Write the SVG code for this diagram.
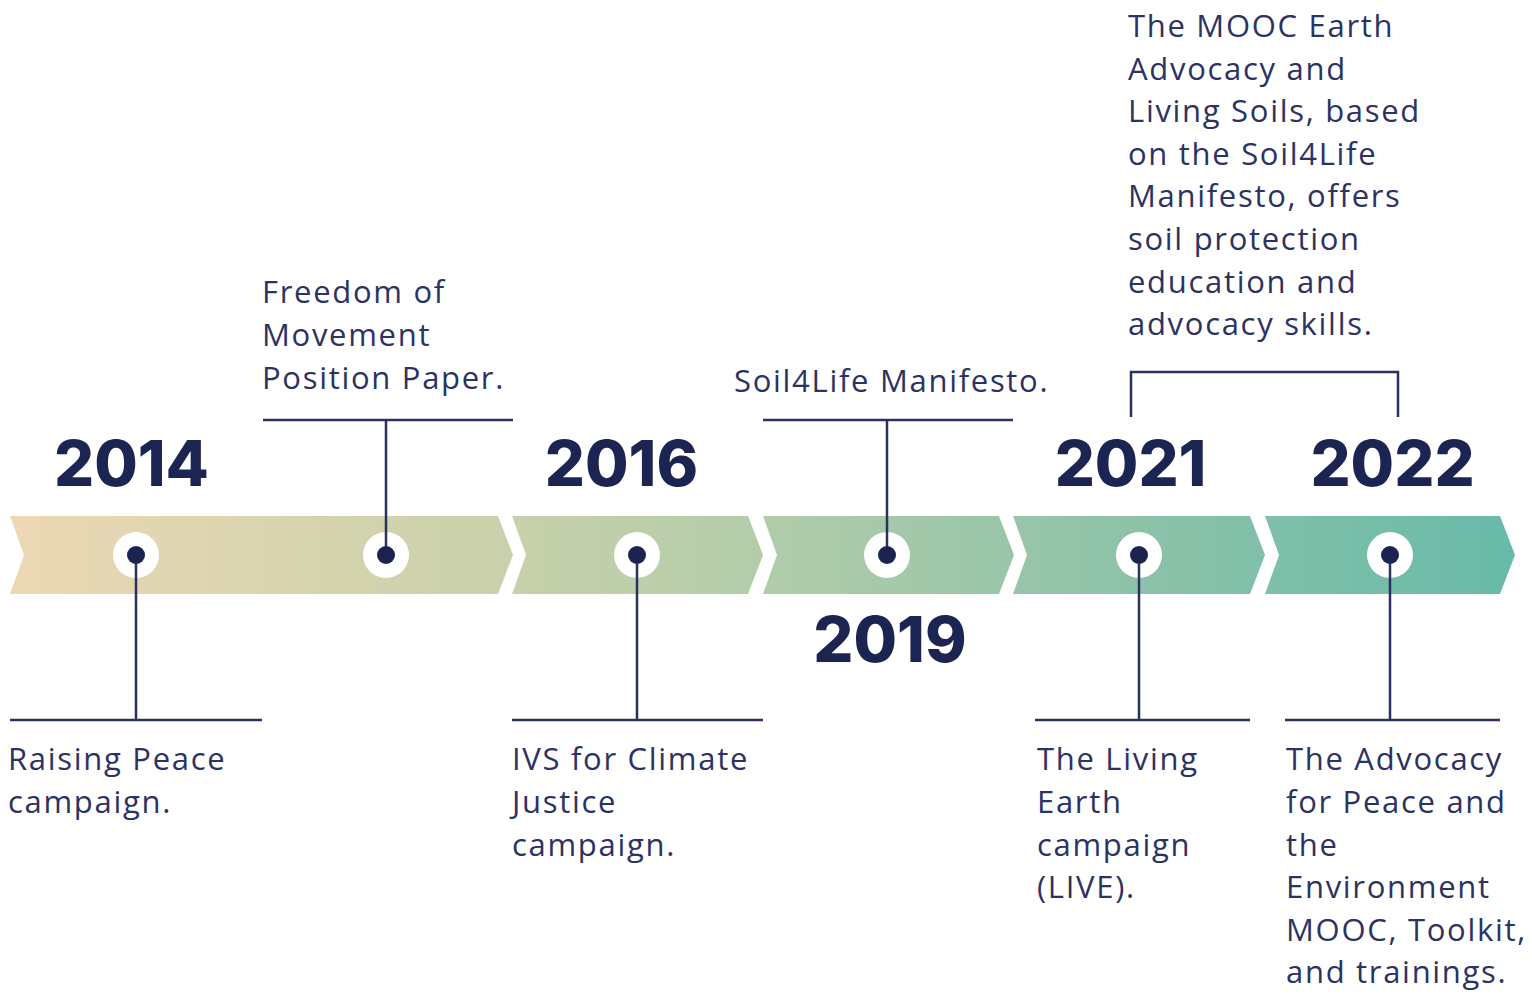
<svg xmlns="http://www.w3.org/2000/svg" width="1532" height="994" viewBox="0 0 1532 994">
  <defs>
    <linearGradient id="band" gradientUnits="userSpaceOnUse" x1="10" y1="0" x2="1515" y2="0">
      <stop offset="0" stop-color="#ECD8B4"/>
      <stop offset="0.33" stop-color="#C8D1AB"/>
      <stop offset="0.5" stop-color="#B2CCA9"/>
      <stop offset="0.67" stop-color="#98C5A9"/>
      <stop offset="1" stop-color="#68BAA8"/>
    </linearGradient>
    <style>
      .seg { fill: url(#band); }
      .ring { fill: #FFFFFF; }
      .dot { fill: #1B2350; }
      .ln { stroke: #2A3062; stroke-width: 2.5; fill: none; }
      .yr { font-family: Inter, "Open Sans", sans-serif; font-weight: 800; font-size: 63px; fill: #1C2452; text-anchor: middle; }
      .lb { font-family: "Open Sans", "Noto Sans", sans-serif; font-size: 31px; letter-spacing: 1.7px; fill: #2C3263; }
    </style>
  </defs>
  <rect width="1532" height="994" fill="#FFFFFF"/>

  <g id="band-segments">
    <polygon class="seg" points="10,516 498,516 513,555 498,594 10,594 24,555"/>
    <polygon class="seg" points="512,516 748,516 763,555 748,594 512,594 526,555"/>
    <polygon class="seg" points="763,516 999,516 1014,555 999,594 763,594 777,555"/>
    <polygon class="seg" points="1013,516 1250,516 1265,555 1250,594 1013,594 1027,555"/>
    <polygon class="seg" points="1265,516 1500,516 1515,555 1500,594 1265,594 1279,555"/>
  </g>

  <g id="rings">
    <circle class="ring" cx="136" cy="555" r="23"/>
    <circle class="ring" cx="386" cy="555" r="23"/>
    <circle class="ring" cx="637" cy="555" r="23"/>
    <circle class="ring" cx="887" cy="555" r="23"/>
    <circle class="ring" cx="1139" cy="555" r="23"/>
    <circle class="ring" cx="1390" cy="555" r="23"/>
  </g>

  <g id="connectors">
    <path class="ln" d="M136,555 V720 M10,720 H262"/>
    <path class="ln" d="M386,555 V420 M263,420 H513"/>
    <path class="ln" d="M637,555 V720 M512,720 H763"/>
    <path class="ln" d="M887,555 V420 M763,420 H1013"/>
    <path class="ln" d="M1139,555 V720 M1035,720 H1250"/>
    <path class="ln" d="M1390,555 V720 M1285,720 H1500"/>
    <path class="ln" d="M1131,417 V372 H1398 V417"/>
  </g>

  <g id="node-2014">
    <circle class="dot" cx="136" cy="555" r="9"/>
    <text class="yr" x="131.5" y="486">2014</text>
    <text class="lb" x="8" y="770">Raising Peace</text>
    <text class="lb" x="8" y="813">campaign.</text>
  </g>

  <g id="node-freedom">
    <circle class="dot" cx="386" cy="555" r="9"/>
    <text class="lb" x="262" y="303">Freedom of</text>
    <text class="lb" x="262" y="346">Movement</text>
    <text class="lb" x="262" y="389">Position Paper.</text>
  </g>

  <g id="node-2016">
    <circle class="dot" cx="637" cy="555" r="9"/>
    <text class="yr" x="621.5" y="486">2016</text>
    <text class="lb" x="512" y="770">IVS for Climate</text>
    <text class="lb" x="512" y="813">Justice</text>
    <text class="lb" x="512" y="856">campaign.</text>
  </g>

  <g id="node-2019">
    <circle class="dot" cx="887" cy="555" r="9"/>
    <text class="yr" x="890" y="662">2019</text>
    <text class="lb" x="734" y="392">Soil4Life Manifesto.</text>
  </g>

  <g id="node-2021">
    <circle class="dot" cx="1139" cy="555" r="9"/>
    <text class="yr" x="1130.5" y="486">2021</text>
    <text class="lb" x="1037" y="770">The Living</text>
    <text class="lb" x="1037" y="813">Earth</text>
    <text class="lb" x="1037" y="856">campaign</text>
    <text class="lb" x="1037" y="898">(LIVE).</text>
  </g>

  <g id="node-2022">
    <circle class="dot" cx="1390" cy="555" r="9"/>
    <text class="yr" x="1392.5" y="486">2022</text>
    <text class="lb" x="1286" y="770">The Advocacy</text>
    <text class="lb" x="1286" y="813">for Peace and</text>
    <text class="lb" x="1286" y="856">the</text>
    <text class="lb" x="1286" y="898">Environment</text>
    <text class="lb" x="1286" y="941">MOOC, Toolkit,</text>
    <text class="lb" x="1286" y="983">and trainings.</text>
  </g>

  <g id="node-mooc">
    <text class="lb" x="1128" y="37">The MOOC Earth</text>
    <text class="lb" x="1128" y="80">Advocacy and</text>
    <text class="lb" x="1128" y="122">Living Soils, based</text>
    <text class="lb" x="1128" y="165">on the Soil4Life</text>
    <text class="lb" x="1128" y="207">Manifesto, offers</text>
    <text class="lb" x="1128" y="250">soil protection</text>
    <text class="lb" x="1128" y="293">education and</text>
    <text class="lb" x="1128" y="335">advocacy skills.</text>
  </g>
</svg>
